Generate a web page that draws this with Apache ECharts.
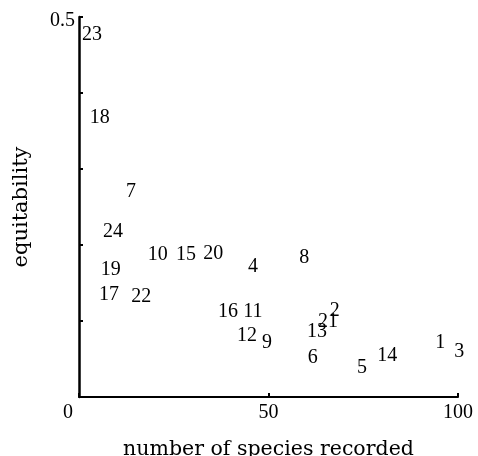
<!DOCTYPE html>
<html>
<head>
    <meta charset="utf-8">
    <script src="https://cdn.jsdelivr.net/npm/echarts@6/dist/echarts.min.js"></script>
    <style>
        html, body { margin: 0; padding: 0; background: #fff; }
        #main { width: 478px; height: 456px; }
    </style>
</head>
<body>
    <div id="main"></div>
    <script>
        // station numbers and their (species, equitability) readings
        var sites = ['23', '18', '7', '24', '19', '17', '22', '10', '15', '20', '4', '8',
            '16', '11', '12', '9', '13', '2', '21', '6', '5', '14', '1', '3'];
        var species = [3.4, 5.5, 13.7, 9.0, 8.4, 7.9, 16.4, 20.8, 28.2, 35.4, 45.9, 59.4,
            39.3, 45.9, 44.3, 49.6, 62.8, 67.5, 65.7, 61.7, 74.7, 81.3, 95.3, 100.3];
        var equitability = [0.476, 0.367, 0.270, 0.217, 0.167, 0.134, 0.132, 0.187, 0.187, 0.188, 0.171, 0.183,
            0.112, 0.112, 0.080, 0.071, 0.086, 0.113, 0.099, 0.051, 0.038, 0.054, 0.071, 0.059];
        var xTicks = [0, 50, 100];

        var points = sites.map(function (s, i) {
            return [species[i], equitability[i], s];
        });

        var font = 'Liberation Serif';
        var titleFont = 'DejaVu Serif';
        var chart = echarts.init(document.getElementById('main'));

        chart.setOption({
            animation: false,
            grid: { left: 79, right: 20, top: 17, bottom: 59, outerBoundsMode: 'none' },
            xAxis: {
                type: 'value',
                min: 0,
                max: 100,
                interval: 50,
                name: 'number of species recorded',
                nameLocation: 'middle',
                nameGap: 42,
                nameTextStyle: { fontFamily: titleFont, fontSize: 20.5, color: '#000' },
                axisLine: { lineStyle: { color: '#000', width: 2 } },
                axisTick: { inside: true, length: 4, lineStyle: { color: '#000', width: 2 } },
                axisLabel: {
                    margin: 6,
                    fontFamily: font,
                    fontSize: 20,
                    color: '#000',
                    formatter: function (v) {
                        if (xTicks.indexOf(v) < 0) return '';
                        return v === 0 ? '{z|0}' : String(v);
                    },
                    rich: { z: { fontFamily: font, fontSize: 20, color: '#000', padding: [0, 22, 0, 0] } }
                },
                splitLine: { show: false }
            },
            yAxis: {
                type: 'value',
                min: 0,
                max: 0.5,
                interval: 0.1,
                name: 'equitability',
                nameLocation: 'middle',
                nameGap: 47,
                nameTextStyle: { fontFamily: titleFont, fontSize: 21, color: '#000' },
                axisLine: { lineStyle: { color: '#000', width: 2.5 } },
                axisTick: { inside: true, length: 4, lineStyle: { color: '#000', width: 2 } },
                axisLabel: {
                    margin: 4,
                    fontFamily: font,
                    fontSize: 20,
                    color: '#000',
                    formatter: function (v) { return v === 0.5 ? '{t|0.5}' : ''; },
                    rich: { t: { fontFamily: font, fontSize: 20, color: '#000', padding: [8, 0, 0, 0] } }
                },
                splitLine: { show: false }
            },
            series: [{
                type: 'scatter',
                data: points,
                clip: false,
                symbolSize: 0,
                itemStyle: { color: '#fff', opacity: 1 },
                label: {
                    show: true,
                    position: 'inside',
                    fontFamily: font,
                    fontSize: 20,
                    color: '#000',
                    formatter: function (p) { return p.value[2]; }
                }
            }]
        });
    </script>
</body>
</html>
